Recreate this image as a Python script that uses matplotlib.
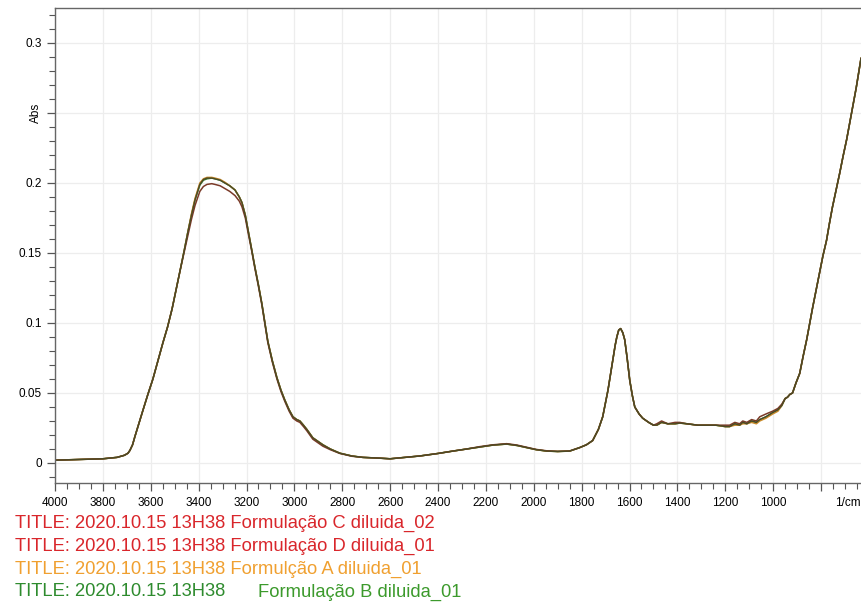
import matplotlib
matplotlib.use("Agg")
import matplotlib.pyplot as plt
from matplotlib.ticker import MultipleLocator

# --- datos ---
wn = [4000, 3900, 3800, 3741, 3710, 3695, 3687, 3676, 3666, 3650,
      3632, 3612, 3591, 3570, 3549, 3530, 3511, 3495, 3478, 3460,
      3445, 3430, 3415, 3395, 3380, 3365, 3345, 3332, 3310, 3290,
      3270, 3248, 3230, 3219, 3205, 3194, 3180, 3165, 3150, 3136,
      3123, 3111, 3092, 3073, 3056, 3040, 3022, 3006, 2990, 2977,
      2962, 2948, 2923, 2881, 2850, 2810, 2760, 2714, 2650, 2600,
      2540, 2476, 2400, 2338, 2280, 2225, 2170, 2113, 2070, 2029,
      1990, 1946, 1900, 1850, 1808, 1780, 1754, 1730, 1712, 1690,
      1674, 1660, 1653, 1645, 1637, 1628, 1620, 1610, 1599, 1588,
      1578, 1560, 1545, 1520, 1500, 1486, 1466, 1440, 1410, 1390,
      1360, 1315, 1280, 1240, 1200, 1182, 1160, 1140, 1127, 1110,
      1090, 1070, 1056, 1030, 1002, 980, 964, 950, 940, 930,
      919, 905, 889, 875, 860, 848, 835, 820, 806, 792,
      777, 765, 752, 737, 722, 708, 693, 680, 668, 653,
      639, 633]

abs_C = [0.002, 0.0025, 0.003, 0.004, 0.0055, 0.007, 0.009, 0.013, 0.019, 0.028,
         0.038, 0.049, 0.060, 0.073, 0.086, 0.097, 0.110, 0.123, 0.137, 0.152,
         0.165, 0.177, 0.188, 0.199, 0.2025, 0.2035, 0.2035, 0.203, 0.202, 0.200,
         0.198, 0.195, 0.190, 0.186, 0.177, 0.167, 0.154, 0.140, 0.127, 0.114,
         0.100, 0.087, 0.073, 0.061, 0.052, 0.045, 0.038, 0.033, 0.031, 0.030,
         0.027, 0.024, 0.018, 0.013, 0.010, 0.007, 0.005, 0.004, 0.0035, 0.003,
         0.004, 0.005, 0.0068, 0.0085, 0.010, 0.0115, 0.0128, 0.0135, 0.0125, 0.011,
         0.0095, 0.0085, 0.0082, 0.0085, 0.011, 0.013, 0.016, 0.024, 0.033, 0.052,
         0.069, 0.084, 0.090, 0.095, 0.096, 0.093, 0.088, 0.075, 0.059, 0.048,
         0.040, 0.035, 0.032, 0.029, 0.027, 0.027, 0.029, 0.028, 0.028, 0.0285,
         0.028, 0.027, 0.027, 0.027, 0.026, 0.026, 0.028, 0.027, 0.029, 0.028,
         0.030, 0.029, 0.031, 0.033, 0.036, 0.038, 0.041, 0.046, 0.047, 0.049,
         0.050, 0.057, 0.064, 0.076, 0.088, 0.099, 0.111, 0.124, 0.136, 0.148,
         0.159, 0.171, 0.183, 0.195, 0.207, 0.219, 0.231, 0.243, 0.254, 0.268,
         0.283, 0.289]

abs_D = [0.002, 0.0025, 0.003, 0.004, 0.0055, 0.007, 0.009, 0.013, 0.019, 0.028,
         0.038, 0.049, 0.060, 0.073, 0.086, 0.097, 0.110, 0.123, 0.137, 0.151,
         0.163, 0.174, 0.184, 0.194, 0.1975, 0.199, 0.1995, 0.199, 0.198, 0.196,
         0.194, 0.191, 0.187, 0.183, 0.175, 0.165, 0.153, 0.139, 0.126, 0.113,
         0.099, 0.086, 0.072, 0.060, 0.051, 0.044, 0.037, 0.032, 0.030, 0.029,
         0.026, 0.023, 0.017, 0.012, 0.0095, 0.0068, 0.0048, 0.004, 0.0035, 0.003,
         0.004, 0.005, 0.0068, 0.0085, 0.010, 0.0117, 0.013, 0.0138, 0.0128, 0.0112,
         0.0097, 0.0087, 0.0083, 0.0086, 0.011, 0.013, 0.016, 0.024, 0.033, 0.052,
         0.069, 0.084, 0.090, 0.095, 0.096, 0.093, 0.088, 0.075, 0.059, 0.048,
         0.040, 0.035, 0.032, 0.029, 0.027, 0.028, 0.030, 0.028, 0.029, 0.029,
         0.028, 0.027, 0.027, 0.027, 0.027, 0.027, 0.029, 0.028, 0.030, 0.029,
         0.031, 0.030, 0.033, 0.035, 0.037, 0.039, 0.042, 0.046, 0.047, 0.049,
         0.050, 0.057, 0.064, 0.076, 0.088, 0.099, 0.111, 0.124, 0.136, 0.148,
         0.159, 0.171, 0.183, 0.195, 0.207, 0.219, 0.231, 0.243, 0.254, 0.268,
         0.283, 0.289]

abs_A = [0.002, 0.0025, 0.003, 0.004, 0.0055, 0.007, 0.009, 0.013, 0.019, 0.028,
         0.038, 0.049, 0.060, 0.073, 0.086, 0.097, 0.110, 0.123, 0.137, 0.152,
         0.165, 0.178, 0.189, 0.200, 0.203, 0.204, 0.204, 0.2035, 0.2025, 0.2005,
         0.198, 0.195, 0.190, 0.186, 0.177, 0.167, 0.154, 0.140, 0.127, 0.114,
         0.100, 0.087, 0.073, 0.061, 0.052, 0.045, 0.038, 0.033, 0.031, 0.030,
         0.027, 0.024, 0.018, 0.013, 0.010, 0.007, 0.005, 0.004, 0.0035, 0.003,
         0.004, 0.005, 0.0068, 0.0085, 0.010, 0.0115, 0.0128, 0.0135, 0.0125, 0.011,
         0.0095, 0.0085, 0.0082, 0.0085, 0.011, 0.013, 0.016, 0.024, 0.033, 0.052,
         0.069, 0.084, 0.090, 0.095, 0.096, 0.093, 0.088, 0.075, 0.059, 0.048,
         0.040, 0.035, 0.032, 0.029, 0.027, 0.027, 0.029, 0.028, 0.028, 0.0285,
         0.028, 0.027, 0.027, 0.027, 0.026, 0.026, 0.027, 0.027, 0.028, 0.028,
         0.029, 0.028, 0.030, 0.032, 0.035, 0.037, 0.041, 0.046, 0.047, 0.049,
         0.050, 0.057, 0.064, 0.076, 0.088, 0.099, 0.111, 0.124, 0.136, 0.148,
         0.159, 0.171, 0.183, 0.195, 0.207, 0.219, 0.231, 0.243, 0.254, 0.268,
         0.283, 0.289]

abs_B = [0.002, 0.0025, 0.003, 0.004, 0.0055, 0.007, 0.009, 0.013, 0.019, 0.028,
         0.038, 0.049, 0.060, 0.073, 0.086, 0.097, 0.110, 0.123, 0.137, 0.152,
         0.165, 0.177, 0.188, 0.1985, 0.202, 0.203, 0.2035, 0.203, 0.202, 0.200,
         0.198, 0.195, 0.190, 0.186, 0.177, 0.167, 0.154, 0.140, 0.127, 0.114,
         0.100, 0.087, 0.073, 0.061, 0.052, 0.045, 0.038, 0.033, 0.031, 0.030,
         0.027, 0.024, 0.018, 0.013, 0.010, 0.007, 0.005, 0.004, 0.0035, 0.003,
         0.004, 0.005, 0.0068, 0.0085, 0.010, 0.0115, 0.0128, 0.0135, 0.0125, 0.011,
         0.0095, 0.0085, 0.0082, 0.0085, 0.011, 0.013, 0.016, 0.024, 0.033, 0.052,
         0.069, 0.084, 0.090, 0.095, 0.096, 0.093, 0.088, 0.075, 0.059, 0.048,
         0.040, 0.035, 0.032, 0.029, 0.027, 0.027, 0.029, 0.028, 0.028, 0.0285,
         0.028, 0.027, 0.027, 0.027, 0.026, 0.026, 0.028, 0.027, 0.029, 0.028,
         0.030, 0.029, 0.031, 0.033, 0.036, 0.038, 0.041, 0.046, 0.047, 0.049,
         0.050, 0.057, 0.064, 0.076, 0.088, 0.099, 0.111, 0.124, 0.136, 0.148,
         0.159, 0.171, 0.183, 0.195, 0.207, 0.219, 0.231, 0.243, 0.254, 0.268,
         0.283, 0.289]

x_labels = [4000, 3800, 3600, 3400, 3200, 3000, 2800, 2600, 2400, 2200, 2000, 1800, 1600, 1400, 1200, 1000]
y_labels = {0.0: "0", 0.05: "0.05", 0.1: "0.1", 0.15: "0.15", 0.2: "0.2", 0.25: "", 0.3: "0.3"}

titulos = [
    ("TITLE: 2020.10.15 13H38 Formulação C diluida_02", "#d9262b"),
    ("TITLE: 2020.10.15 13H38 Formulação D diluida_01", "#d9262b"),
    ("TITLE: 2020.10.15 13H38 Formulção A diluida_01", "#f0a030"),
]

plt.rcParams["font.family"] = ["Liberation Sans", "DejaVu Sans"]

fig = plt.figure(figsize=(8.61, 6.08), dpi=100)
ax = fig.add_axes([55 / 861, 1 - 483 / 608, 1 - 55 / 861, (483 - 8) / 608])

ax.plot(wn, abs_B, color="#3b7a2a", lw=1.1)
ax.plot(wn, abs_A, color="#c98a2a", lw=1.1)
ax.plot(wn, abs_D, color="#7a3a28", lw=1.1)
ax.plot(wn, abs_C, color="#4a4a25", lw=1.0)

ax.set_xlim(4000, 633)
ax.set_ylim(-0.0143, 0.325)

ax.xaxis.set_minor_locator(MultipleLocator(50))
ax.yaxis.set_minor_locator(MultipleLocator(0.01))
ax.set_xticks([800] + x_labels)
ax.set_xticklabels([""] + [str(v) for v in x_labels])
ax.set_yticks(list(y_labels.keys()))
ax.set_yticklabels(list(y_labels.values()))

ax.tick_params(which="major", direction="out", length=6, width=0.9, color="#555555",
               labelsize=8.5)
ax.tick_params(axis="x", which="major", pad=4)
ax.tick_params(which="minor", direction="out", length=4, width=0.8, color="#555555")
ax.grid(True, which="major", color="#ededed", lw=0.9)
ax.set_axisbelow(True)

for s in ["left", "bottom", "top"]:
    ax.spines[s].set_color("#666666")
    ax.spines[s].set_linewidth(1.0)
ax.spines["right"].set_visible(False)

ax.text(-0.024, 0.25, "Abs", transform=ax.get_yaxis_transform(), rotation=90,
        ha="center", va="center", fontsize=8.5)
ax.annotate("1/cm", xy=(689, 0), xycoords=("data", "axes fraction"), xytext=(0, -10),
            textcoords="offset points", ha="center", va="top", fontsize=8.5)

# titulos de los espectros
y0 = 1 - 523 / 608
for i, (t, c) in enumerate(titulos):
    fig.text(15 / 861, y0 - i * 23 / 608, t, color=c, fontsize=13.2, va="center")
fig.text(15 / 861, y0 - 3 * 23 / 608, "TITLE: 2020.10.15 13H38", color="#2e8b2e",
         fontsize=13.2, va="center")
fig.text(258 / 861, y0 - 3 * 23 / 608, "Formulação B diluida_01", color="#3c9a2c",
         fontsize=13.2, va="center")

fig.savefig("out.png", dpi=100)
